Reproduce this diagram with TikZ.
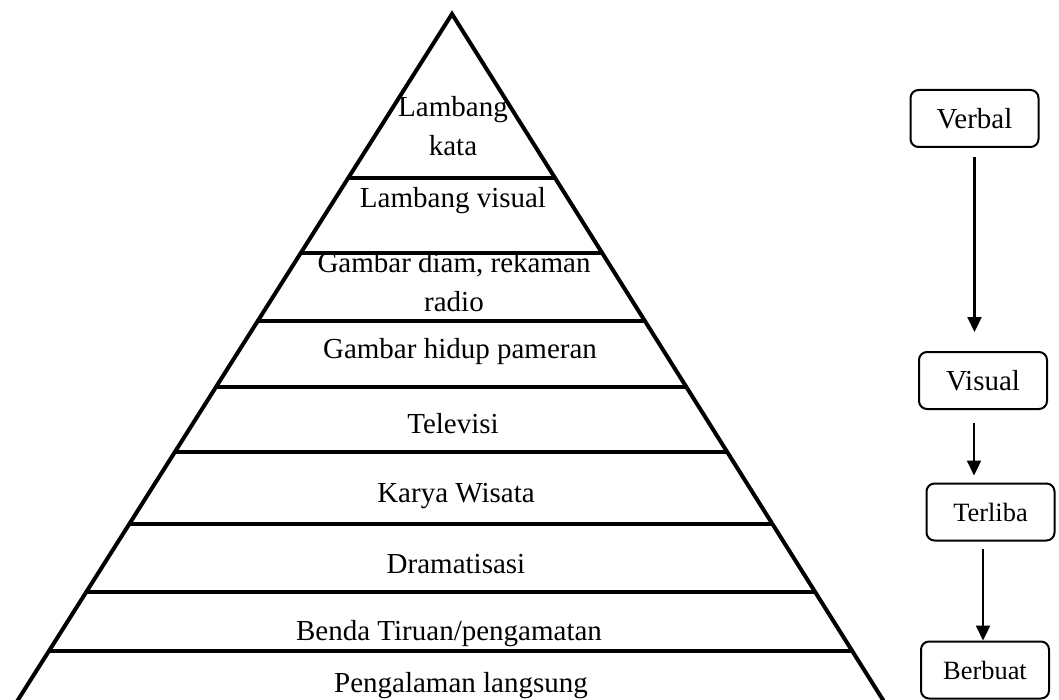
\documentclass[tikz,border=0pt]{standalone}
\usepackage{fontspec}
\setmainfont{Liberation Serif}
\usepackage{tikz}
\usetikzlibrary{arrows.meta,calc}

\begin{document}
\begin{tikzpicture}[x=0.5pt,y=-0.5pt,
  pyr/.style={line width=2pt},
  lvl/.style={anchor=base,inner sep=0pt,align=center,
    font=\fontsize{14.5}{19.5}\selectfont},
  stage/.style={rectangle,draw,line width=1pt,rounded corners=4pt,
    minimum width=64pt,minimum height=28.5pt,inner sep=2pt,
    font=\fontsize{14.5}{17}\selectfont},
  stagesm/.style={stage,font=\fontsize{13.2}{16}\selectfont},
  arr/.style={line width=1.1pt,-{Triangle[width=7pt,length=7.5pt]}}]
  \useasboundingbox (0,0) rectangle (1059,700);
  \coordinate (apex) at (452,14);
  \coordinate (bl) at (11.6,710);
  \coordinate (br) at (889.3,710);
  \draw[pyr] (bl) -- (apex) -- (br);
  \foreach \y in {178,253,321,387,452,524,592,651}
    \draw[pyr] ($(apex)!{(\y-14)/696}!(bl)$) -- ($(apex)!{(\y-14)/696}!(br)$);
  \node[lvl] (kata) at (453,156) {Lambang\\kata};
  \node[lvl] (visual) at (453,208) {Lambang visual};
  \node[lvl] (diam) at (454,311) {Gambar diam, rekaman\\radio};
  \node[lvl] (hidup) at (460,358) {Gambar hidup pameran};
  \node[lvl] (tv) at (453,433) {Televisi};
  \node[lvl] (wisata) at (456,502) {Karya Wisata};
  \node[lvl] (drama) at (456,573) {Dramatisasi};
  \node[lvl] (tiruan) at (449,640) {Benda Tiruan/pengamatan};
  \node[lvl] (langsung) at (461,692) {Pengalaman langsung};
  \node[stage] (verbalbox) at (974.5,118.5) {Verbal};
  \node[stage] (visualbox) at (983,380.5) {Visual};
  \node[stagesm] (terlibabox) at (990.5,512) {Terliba};
  \node[stagesm] (berbuatbox) at (985,670) {Berbuat};
  \draw[arr,shorten <=4.5pt,shorten >=9.5pt] (verbalbox.south) -- (verbalbox.south |- visualbox.north);
  \draw[arr,shorten <=6.5pt,shorten >=3.5pt] ([xshift=-4.5pt]visualbox.south) -- ([xshift=-4.5pt]visualbox.south |- terlibabox.north);
  \draw[arr,shorten <=3.5pt] ([xshift=-3.75pt]terlibabox.south) -- ([xshift=-3.75pt]terlibabox.south |- berbuatbox.north);
\end{tikzpicture}
\end{document}
